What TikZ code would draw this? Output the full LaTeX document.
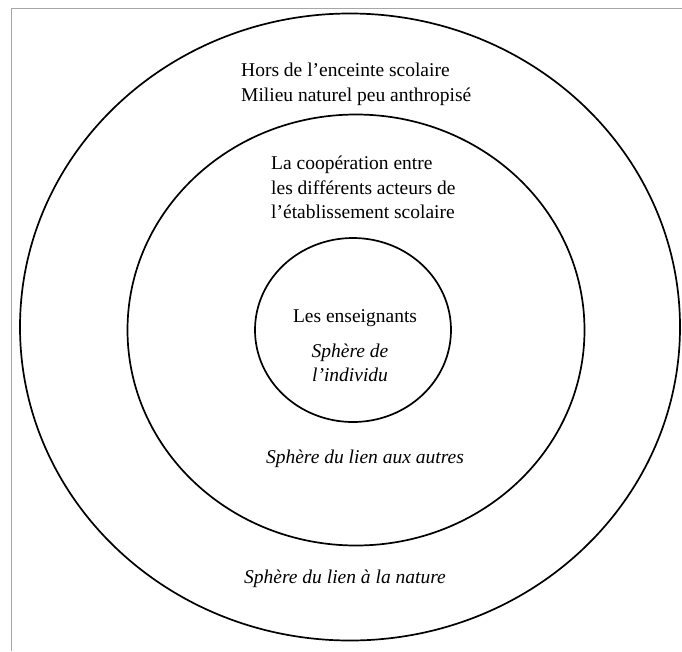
\documentclass[tikz,border=0pt]{standalone}
\usepackage{fontspec}
\setmainfont{Liberation Serif}
\begin{document}
\begin{tikzpicture}[x=1pt,y=-1pt,font=\fontsize{19.5}{24.5}\selectfont,
   sph/.style={draw=black,line width=1.7pt},
   lbl/.style={inner sep=0pt,align=left},
   sphtxt/.style={inner sep=0pt,align=center,font=\fontsize{19.5}{24.5}\selectfont\itshape}]
  \useasboundingbox (0,0) rectangle (682,651);
  % frame (open on the right and bottom)
  \draw[gray!70,line width=1.8pt] (11.5,651) -- (11.5,8.5) -- (682,8.5);
  % spheres (outer = nature, middle = others, inner = individual)
  \coordinate (cn) at (350,327);
  \coordinate (co) at (356,330);
  \coordinate (ci) at (353,330);
  \draw[sph] (cn) ellipse (330 and 313.5);
  \draw[sph] (co) ellipse (228.5 and 215.5);
  \draw[sph] (ci) ellipse (98 and 92);
  % texts
  \node[lbl,anchor=west] (hors) at (241,84.5) {Hors de l’enceinte scolaire\\Milieu naturel peu anthropisé};
  \node[lbl,anchor=west] (coop) at (271,187.5) {La coopération entre\\les différents acteurs de\\l’établissement scolaire};
  \node[inner sep=0pt] (ens) at (355,318) {Les enseignants};
  \node[sphtxt] (indiv) at (350,363) {Sphère de\\l’individu};
  \node[sphtxt] (autres) at (365,459) {Sphère du lien aux autres};
  \node[sphtxt] (nature) at (345,579) {Sphère du lien à la nature};
\end{tikzpicture}
\end{document}
